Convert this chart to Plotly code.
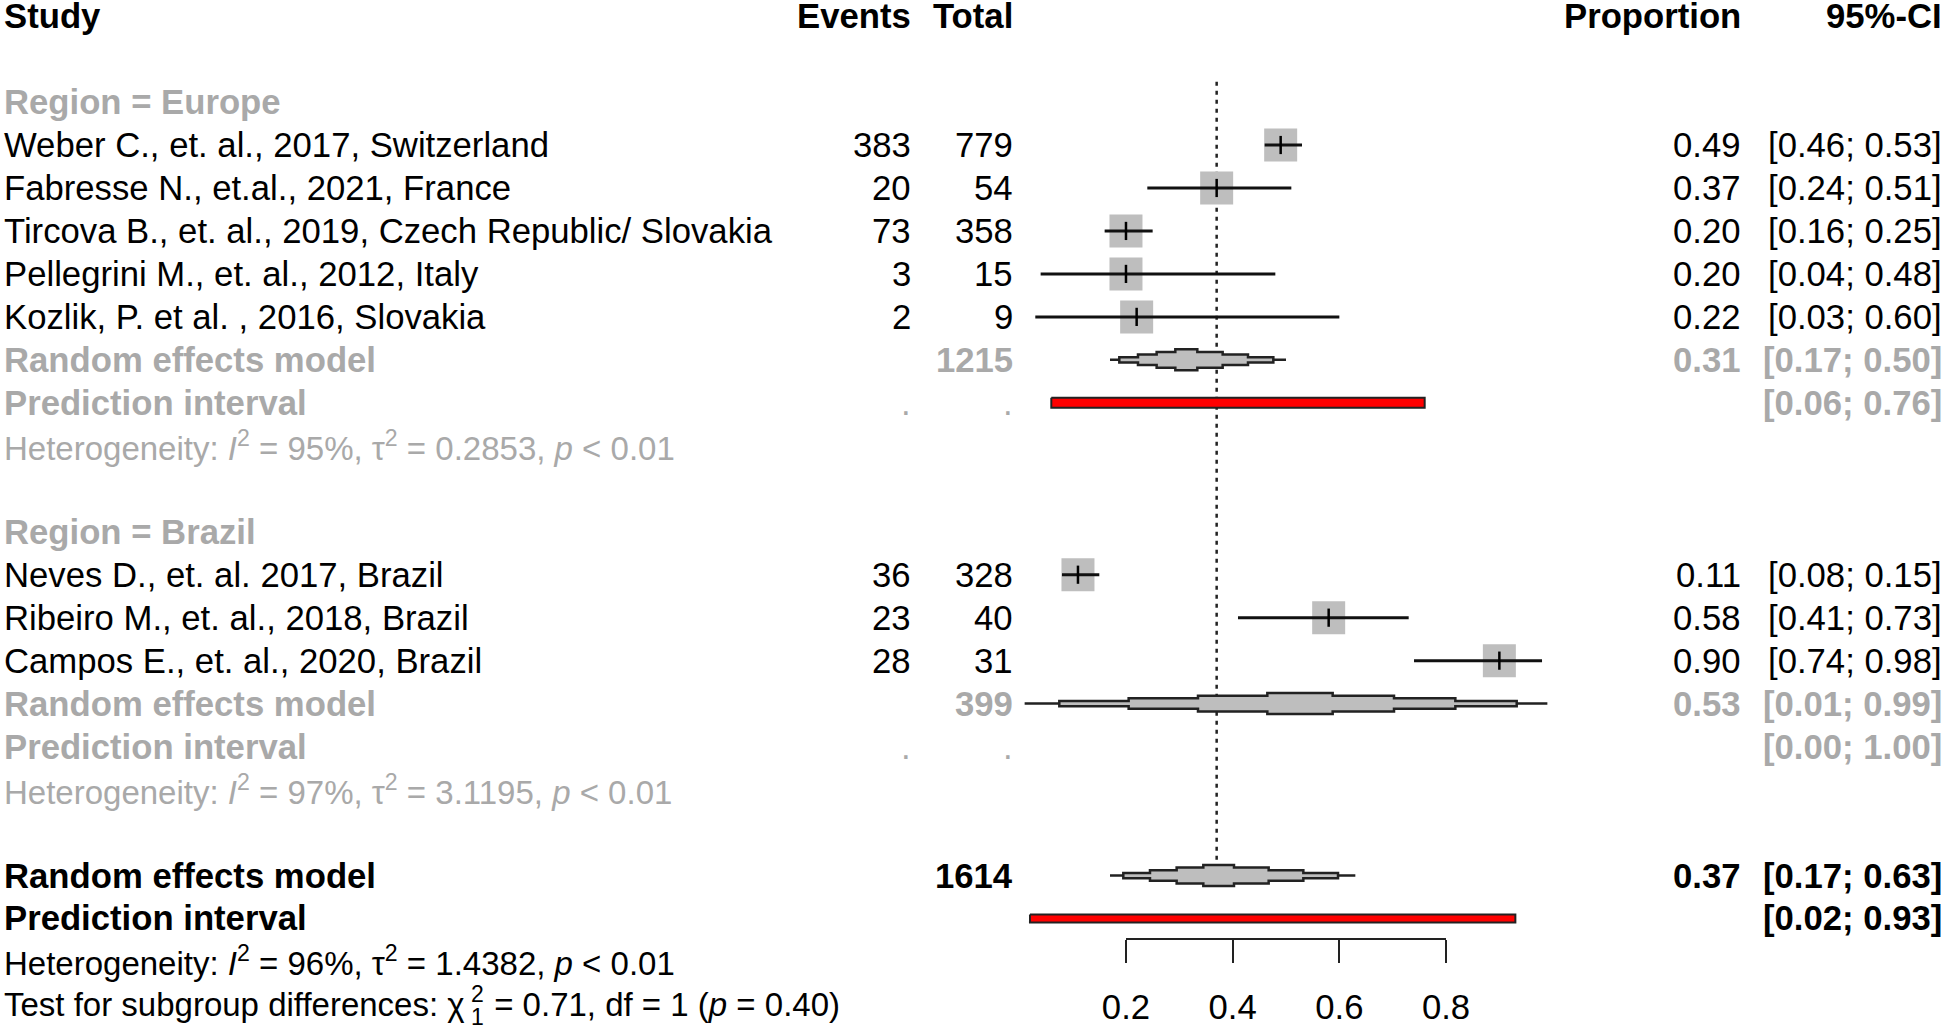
import plotly.graph_objects as go

# ---------------- data ----------------
eu_studies = ["Weber C., et. al., 2017, Switzerland",
              "Fabresse N., et.al., 2021, France",
              "Tircova B., et. al., 2019, Czech Republic/ Slovakia",
              "Pellegrini M., et. al., 2012, Italy",
              "Kozlik, P. et al. , 2016, Slovakia"]
eu_events = [383, 20, 73, 3, 2]
eu_total = [779, 54, 358, 15, 9]
eu_prop = [0.49, 0.37, 0.20, 0.20, 0.22]
eu_lo = [0.46, 0.24, 0.16, 0.04, 0.03]
eu_hi = [0.53, 0.51, 0.25, 0.48, 0.60]

br_studies = ["Neves D., et. al. 2017, Brazil",
              "Ribeiro M., et. al., 2018, Brazil",
              "Campos E., et. al., 2020, Brazil"]
br_events = [36, 23, 28]
br_total = [328, 40, 31]
br_prop = [0.11, 0.58, 0.90]
br_lo = [0.08, 0.41, 0.74]
br_hi = [0.15, 0.73, 0.98]

# subgroup / overall summaries: (estimate, lower, upper)
eu_re = [0.31, 0.17, 0.50]
eu_pi = [0.06, 0.76]
eu_n = 1215
eu_het = ["95%", "0.2853", "&lt; 0.01"]

br_re = [0.53, 0.01, 0.99]
br_pi = [0.00, 1.00]
br_n = 399
br_het = ["97%", "3.1195", "&lt; 0.01"]

all_re = [0.37, 0.17, 0.63]
all_pi = [0.02, 0.93]
all_n = 1614
all_het = ["96%", "1.4382", "&lt; 0.01"]
subgroup_test = ["0.71", "1", "0.40"]

tick_vals = [0.2, 0.4, 0.6, 0.8]
tick_text = ["0.2", "0.4", "0.6", "0.8"]

# ---------------- layout constants ----------------
W, H = 1944, 1030
ROW0, ROWH = 16.1, 42.97          # pixel centre of row 0, row spacing
FS = 34.7
FS_HET = 33
FONT = "Liberation Sans, Arial, sans-serif"
GRAY_TXT = "#A9A9A9"
GRAY_FILL = "#BEBEBE"
X0_PX, X1_PX = 1019.3, 1552.7     # pixel positions of proportion 0 and 1
COL_STUDY, COL_EV, COL_TOT, COL_PROP, COL_CI = 2, 913, 1015, 1743, 1944

def fmt(v):
    return f"{v:.2f}"

def ci_txt(lo, hi):
    return f"[{fmt(lo)}; {fmt(hi)}]"

fig = go.Figure()
ann = []

def text(xpx, row, s, anchor="left", color="black", bold=False, size=FS):
    if bold:
        s = f"<b>{s}</b>"
    ann.append(dict(x=xpx / W, xref="paper", y=row, yref="y", text=s,
                    xanchor=anchor, yanchor="middle", showarrow=False,
                    font=dict(family=FONT, size=size, color=color)))

# rows
r_eu_lab = 2
r_eu = [3, 4, 5, 6, 7]
r_eu_re, r_eu_pi, r_eu_het = 8, 9, 10
r_br_lab = 12
r_br = [13, 14, 15]
r_br_re, r_br_pi, r_br_het = 16, 17, 18
r_all_re, r_all_pi, r_all_het, r_test = 20, 21, 22, 23

# header
text(COL_STUDY, 0, "Study", bold=True)
text(COL_EV, 0, "Events", "right", bold=True)
text(COL_TOT, 0, "Total", "right", bold=True)
text(COL_PROP, 0, "Proportion", "right", bold=True)
text(COL_CI, 0, "95%-CI", "right", bold=True)

def study_rows(names, ev, tot, p, lo, hi, rows):
    for n, e, t, pp, l, h, r in zip(names, ev, tot, p, lo, hi, rows):
        text(COL_STUDY, r, n)
        text(COL_EV, r, str(e), "right")
        text(COL_TOT, r, str(t), "right")
        text(COL_PROP, r, fmt(pp), "right")
        text(COL_CI, r, ci_txt(l, h), "right")

def het_text(vals):
    return (f"Heterogeneity: <i>I</i><sup>2</sup> = {vals[0]}, "
            f"τ<sup>2</sup> = {vals[1]}, <i>p</i> {vals[2]}")

# Europe
text(COL_STUDY, r_eu_lab, "Region = Europe", color=GRAY_TXT, bold=True)
study_rows(eu_studies, eu_events, eu_total, eu_prop, eu_lo, eu_hi, r_eu)
text(COL_STUDY, r_eu_re, "Random effects model", color=GRAY_TXT, bold=True)
text(COL_TOT, r_eu_re, str(eu_n), "right", GRAY_TXT, True)
text(COL_PROP, r_eu_re, fmt(eu_re[0]), "right", GRAY_TXT, True)
text(COL_CI, r_eu_re, ci_txt(eu_re[1], eu_re[2]), "right", GRAY_TXT, True)
text(COL_STUDY, r_eu_pi, "Prediction interval", color=GRAY_TXT, bold=True)
text(COL_EV, r_eu_pi, ".", "right", GRAY_TXT)
text(COL_TOT, r_eu_pi, ".", "right", GRAY_TXT)
text(COL_CI, r_eu_pi, ci_txt(*eu_pi), "right", GRAY_TXT, True)
text(COL_STUDY, r_eu_het, het_text(eu_het), color=GRAY_TXT, size=FS_HET)

# Brazil
text(COL_STUDY, r_br_lab, "Region = Brazil", color=GRAY_TXT, bold=True)
study_rows(br_studies, br_events, br_total, br_prop, br_lo, br_hi, r_br)
text(COL_STUDY, r_br_re, "Random effects model", color=GRAY_TXT, bold=True)
text(COL_TOT, r_br_re, str(br_n), "right", GRAY_TXT, True)
text(COL_PROP, r_br_re, fmt(br_re[0]), "right", GRAY_TXT, True)
text(COL_CI, r_br_re, ci_txt(br_re[1], br_re[2]), "right", GRAY_TXT, True)
text(COL_STUDY, r_br_pi, "Prediction interval", color=GRAY_TXT, bold=True)
text(COL_EV, r_br_pi, ".", "right", GRAY_TXT)
text(COL_TOT, r_br_pi, ".", "right", GRAY_TXT)
text(COL_CI, r_br_pi, ci_txt(*br_pi), "right", GRAY_TXT, True)
text(COL_STUDY, r_br_het, het_text(br_het), color=GRAY_TXT, size=FS_HET)

# Overall
text(COL_STUDY, r_all_re, "Random effects model", bold=True)
text(COL_TOT, r_all_re, str(all_n), "right", bold=True)
text(COL_PROP, r_all_re, fmt(all_re[0]), "right", bold=True)
text(COL_CI, r_all_re, ci_txt(all_re[1], all_re[2]), "right", bold=True)
text(COL_STUDY, r_all_pi, "Prediction interval", bold=True)
text(COL_CI, r_all_pi, ci_txt(*all_pi), "right", bold=True)
text(COL_STUDY, r_all_het, het_text(all_het), size=FS_HET)
text(COL_STUDY, r_test, "Test for subgroup differences: χ", size=FS_HET)
text(469, r_test - 0.25, "2", size=23)
text(469, r_test + 0.30, "1", size=23)
text(483, r_test, f" = {subgroup_test[0]}, df = {subgroup_test[1]} (<i>p</i> = {subgroup_test[2]})",
     size=FS_HET)

# ---------------- graphics ----------------
HALF_D = 10.5 / ROWH   # diamond half height (rows)

def stepped_diamond(est, lo, hi, row, steps=4):
    segs = []
    for side_lo, side_hi, rev in ((lo, est, False), (hi, est, True)):
        part = []
        for i in range(steps + 1):
            t0 = max(0.0, (i - 0.5) / steps)
            t1 = min(1.0, (i + 0.5) / steps)
            h = HALF_D * i / steps
            xa = side_lo + t0 * (side_hi - side_lo)
            xb = side_lo + t1 * (side_hi - side_lo)
            part.append((xa, xb, h))
        if rev:
            part = [(b, a, h) for a, b, h in reversed(part)]
        segs += part
    top_x, top_y = [], []
    for a, b, h in segs:
        top_x += [a, b]
        top_y += [row - h, row - h]
    bot_x = list(reversed(top_x))
    bot_y = [2 * row - y for y in reversed(top_y)]
    return top_x + bot_x + [top_x[0]], top_y + bot_y + [top_y[0]]

# reference dotted line at overall estimate
fig.add_trace(go.Scatter(x=[all_re[0], all_re[0]], y=[1.53, r_all_re - HALF_D],
                         mode="lines", line=dict(color="#222222", width=2.5, dash="4px,5px"),
                         hoverinfo="skip", showlegend=False))

all_p = eu_prop + br_prop
all_lo = eu_lo + br_lo
all_hi = eu_hi + br_hi
all_rows = r_eu + r_br

# squares
fig.add_trace(go.Scatter(x=all_p, y=all_rows, mode="markers",
                         marker=dict(symbol="square", size=33, color=GRAY_FILL,
                                     line=dict(width=0)),
                         cliponaxis=False, hoverinfo="skip", showlegend=False))
# CI lines
cx, cy = [], []
for l, h, r in zip(all_lo, all_hi, all_rows):
    cx += [l, h, None]
    cy += [r, r, None]
fig.add_trace(go.Scatter(x=cx, y=cy, mode="lines", line=dict(color="#111111", width=3),
                         hoverinfo="skip", showlegend=False))
# estimate ticks
fig.add_trace(go.Scatter(x=all_p, y=all_rows, mode="markers",
                         marker=dict(symbol="line-ns", size=13,
                                     line=dict(width=2.5, color="black")),
                         cliponaxis=False, hoverinfo="skip", showlegend=False))

# diamonds
for est, lo, hi, row in ((*eu_re, r_eu_re), (*br_re, r_br_re), (*all_re, r_all_re)):
    dx, dy = stepped_diamond(est, lo, hi, row)
    fig.add_trace(go.Scatter(x=dx, y=dy, mode="lines", fill="toself",
                             fillcolor=GRAY_FILL, line=dict(color="#222222", width=2.5),
                             hoverinfo="skip", showlegend=False))

# prediction intervals (not drawn when they span the whole scale)
for (lo, hi), row, hh in ((eu_pi, r_eu_pi, 5.0), (br_pi, r_br_pi, 5.0), (all_pi, r_all_pi, 4.0)):
    if lo <= 0 and hi >= 1:
        continue
    d = hh / ROWH
    fig.add_trace(go.Scatter(x=[lo, hi, hi, lo, lo], y=[row - d, row - d, row + d, row + d, row - d],
                             mode="lines", fill="toself", fillcolor="#FF0000",
                             line=dict(color="#222222", width=2),
                             hoverinfo="skip", showlegend=False))

# dummy trace for the bracket axis
fig.add_trace(go.Scatter(x=tick_vals, y=[0] * len(tick_vals), xaxis="x2", yaxis="y2",
                         mode="markers", marker=dict(opacity=0), hoverinfo="skip",
                         showlegend=False))

top_row = -ROW0 / ROWH
bottom_row = top_row + H / ROWH

fig.update_layout(
    template="none",
    width=W, height=H,
    margin=dict(l=0, r=0, t=0, b=0, pad=0, autoexpand=False),
    paper_bgcolor="white", plot_bgcolor="rgba(0,0,0,0)",
    font=dict(family=FONT, size=FS, color="black"),
    xaxis=dict(domain=[X0_PX / W, X1_PX / W], range=[0, 1], visible=False,
               fixedrange=True, automargin=False),
    yaxis=dict(domain=[0, 1], range=[bottom_row, top_row], visible=False,
               fixedrange=True, automargin=False),
    xaxis2=dict(domain=[(X0_PX + 0.2 * (X1_PX - X0_PX)) / W, (X0_PX + 0.8 * (X1_PX - X0_PX)) / W],
                range=[0.2, 0.8], anchor="free", position=1 - 938.5 / H,
                showline=True, linecolor="#222222", linewidth=2,
                ticks="outside", ticklen=23, tickwidth=2, tickcolor="#222222",
                tickvals=tick_vals, ticktext=tick_text, ticklabelstandoff=15,
                tickfont=dict(family=FONT, size=FS, color="black"),
                showgrid=False, zeroline=False, fixedrange=True, automargin=False),
    yaxis2=dict(domain=[0, 1], range=[0, 1], anchor="x2", visible=False,
                fixedrange=True, automargin=False),
    annotations=ann,
    showlegend=False,
)

fig.write_html("out.html", config={"displayModeBar": False, "staticPlot": True},
               post_script="document.body.style.margin='0';document.body.style.overflow='hidden';")
